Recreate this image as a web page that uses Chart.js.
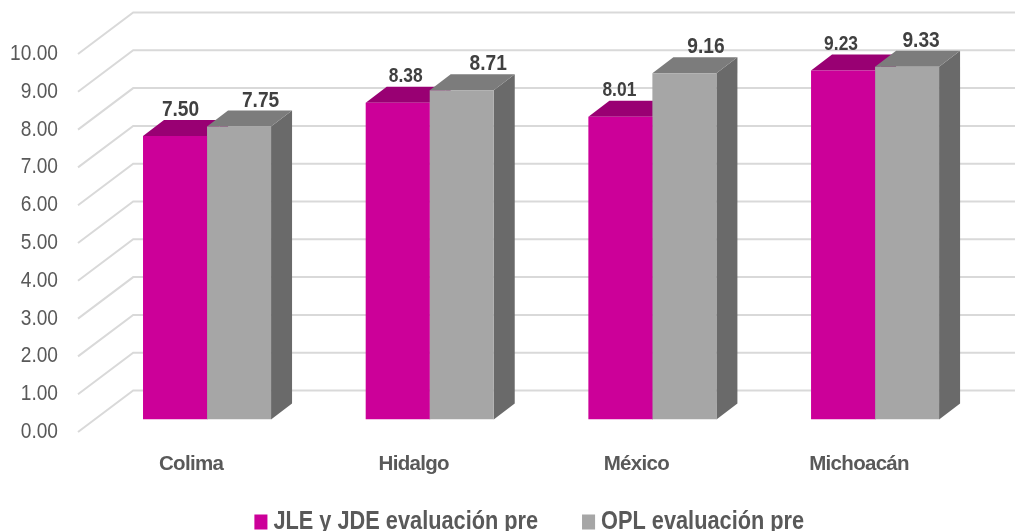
<!DOCTYPE html>
<html>
<head>
<meta charset="utf-8">
<style>
  html, body { margin: 0; padding: 0; background: #fff; overflow: hidden; }
</style>
</head>
<body>
<canvas id="chart" width="1015" height="531"></canvas>
<script src="https://cdn.jsdelivr.net/npm/chart.js@4"></script>
<script>
    const categories = ["Colima", "Hidalgo", "México", "Michoacán"];
    const seriesNames = ["JLE y JDE evaluación pre", "OPL evaluación pre"];
    const jleValues = [7.50, 8.38, 8.01, 9.23];
    const oplValues = [7.75, 8.71, 9.16, 9.33];
    const tickMax = 10;

    const FONT = "'Liberation Sans', Arial, sans-serif";

    // The original text is stretched narrower than any installed font
    const squeeze = 0.87;

    // Extruded look: how far the bar depth and the back wall go
    const barDepth = { x: 21, y: 16 };
    const wallBack = { x: 37.5, y: 29 };
    const wallFront = { x: 17.7, y: 12.5 };

    const sideColors = [
        { top: "#990073", side: "#800060" },
        { top: "#7C7C7C", side: "#6A6A6A" },
    ];

    // Labels were placed by hand in the original, so each one has its own nudge
    const valueLabelStyle = [
        [{ dx: 5.5, size: 22 }, { dx: 8, size: 20 }, { dx: -1, size: 20 }, { dx: -2, size: 20 }],
        [{ dx: 21.5, size: 22 }, { dx: 26.5, size: 22 }, { dx: 21.5, size: 22 }, { dx: 14, size: 22 }],
    ];

    const polygon = (ctx, points, color) => {
        ctx.fillStyle = color;
        ctx.beginPath();
        points.forEach(([x, y], i) => (i ? ctx.lineTo(x, y) : ctx.moveTo(x, y)));
        ctx.closePath();
        ctx.fill();
    };

    // Wraps a draw method so it paints horizontally squeezed around one x
    const drawSqueezed = (chart, target, method, anchor) => {
        const original = target[method].bind(target);
        target[method] = (...args) => {
            const { ctx } = chart;
            ctx.save();
            ctx.translate(anchor, 0);
            ctx.scale(squeeze, 1);
            ctx.translate(-anchor, 0);
            original(...args);
            ctx.restore();
        };
    };

    const bar3d = {
        id: "bar3d",
        afterLayout(chart) {
            // Legend sits off the default centre, first box centred on x=261
            const padding = chart.legend.options.labels.padding;
            chart.legend.left = 261 - padding - 2;
            chart.legend.top = 509.5 - padding;
            drawSqueezed(chart, chart.legend, "draw", 261);
            drawSqueezed(chart, chart.scales.y, "drawLabels", 58);

            const drawXLabels = chart.scales.x.drawLabels.bind(chart.scales.x);
            chart.scales.x.drawLabels = (area) => {
                chart.ctx.save();
                chart.ctx.letterSpacing = "-0.7px";
                drawXLabels(area);
                chart.ctx.restore();
            };
        },
        beforeDatasetsDraw(chart) {
            const { ctx, chartArea, scales } = chart;

            // Wall grid lines, bent along the side of the box
            ctx.save();
            ctx.strokeStyle = "#D9D9D9";
            ctx.lineWidth = 2;
            scales.y.ticks.forEach((tick) => {
                const y = scales.y.getPixelForValue(tick.value);
                ctx.beginPath();
                ctx.moveTo(chartArea.left - wallFront.x, y + wallFront.y);
                ctx.lineTo(chartArea.left + wallBack.x, y - wallBack.y);
                ctx.lineTo(chartArea.right + wallBack.x, y - wallBack.y);
                ctx.stroke();
            });

            // Tops and sides go first, the library paints the front faces over them
            chart.data.datasets.forEach((dataset, d) => {
                chart.getDatasetMeta(d).data.forEach((bar) => {
                    const left = bar.x - bar.width / 2;
                    const right = bar.x + bar.width / 2;
                    polygon(ctx, [
                        [right, bar.y],
                        [right + barDepth.x, bar.y - barDepth.y],
                        [right + barDepth.x, bar.base - barDepth.y],
                        [right, bar.base],
                    ], sideColors[d].side);
                    polygon(ctx, [
                        [left, bar.y],
                        [left + barDepth.x, bar.y - barDepth.y],
                        [right + barDepth.x, bar.y - barDepth.y],
                        [right, bar.y],
                    ], sideColors[d].top);
                });
            });
            ctx.restore();
        },
        afterDatasetsDraw(chart) {
            const { ctx } = chart;
            ctx.fillStyle = "#404040";
            ctx.textAlign = "center";
            ctx.textBaseline = "middle";
            chart.data.datasets.forEach((dataset, d) => {
                chart.getDatasetMeta(d).data.forEach((bar, i) => {
                    const style = valueLabelStyle[d][i];
                    ctx.save();
                    ctx.translate(bar.x + style.dx, bar.y - barDepth.y - 10);
                    ctx.scale(squeeze, 1);
                    ctx.font = "bold " + style.size + "px " + FONT;
                    ctx.fillText(dataset.data[i].toFixed(2), 0, 0);
                    ctx.restore();
                });
            });
        },
    };

    new Chart(document.getElementById("chart"), {
        type: "bar",
        data: {
            labels: categories,
            datasets: [
                { label: seriesNames[0], data: jleValues, backgroundColor: "#CC0099" },
                { label: seriesNames[1], data: oplValues, backgroundColor: "#A6A6A6" },
            ],
        },
        options: {
            responsive: false,
            animation: false,
            categoryPercentage: 0.575,
            barPercentage: 1,
            layout: {
                padding: { left: 0, right: 28.6, top: 41.5, bottom: -44.5 },
            },
            scales: {
                x: {
                    grid: { display: false },
                    border: { display: false },
                    afterFit: (scale) => {
                        scale.height = 65;
                    },
                    ticks: {
                        padding: 25,
                        labelOffset: -16,
                        maxRotation: 0,
                        autoSkip: false,
                        color: "#595959",
                        font: { family: FONT, size: 20.5, weight: "bold" },
                    },
                },
                y: {
                    min: 0,
                    max: tickMax,
                    grid: { display: false, drawTicks: false },
                    border: { display: false },
                    afterFit: (scale) => {
                        // tick padding also counts vertically otherwise
                        scale.width = 95.7;
                        scale.paddingTop = 0;
                        scale.paddingBottom = 0;
                    },
                    ticks: {
                        stepSize: 1,
                        padding: 37.7,
                        labelOffset: 12.5,
                        color: "#595959",
                        font: { family: FONT, size: 22 },
                        callback: (value) => value.toFixed(2),
                    },
                },
            },
            plugins: {
                tooltip: { enabled: false },
                legend: {
                    position: "bottom",
                    align: "start",
                    labels: {
                        usePointStyle: true,
                        pointStyle: "rect",
                        boxWidth: 3.8,
                        boxHeight: 15,
                        padding: 56,
                        color: "#595959",
                        font: { family: FONT, size: 25, weight: "bold" },
                    },
                },
            },
        },
        plugins: [bar3d],
    });
</script>
</body>
</html>
